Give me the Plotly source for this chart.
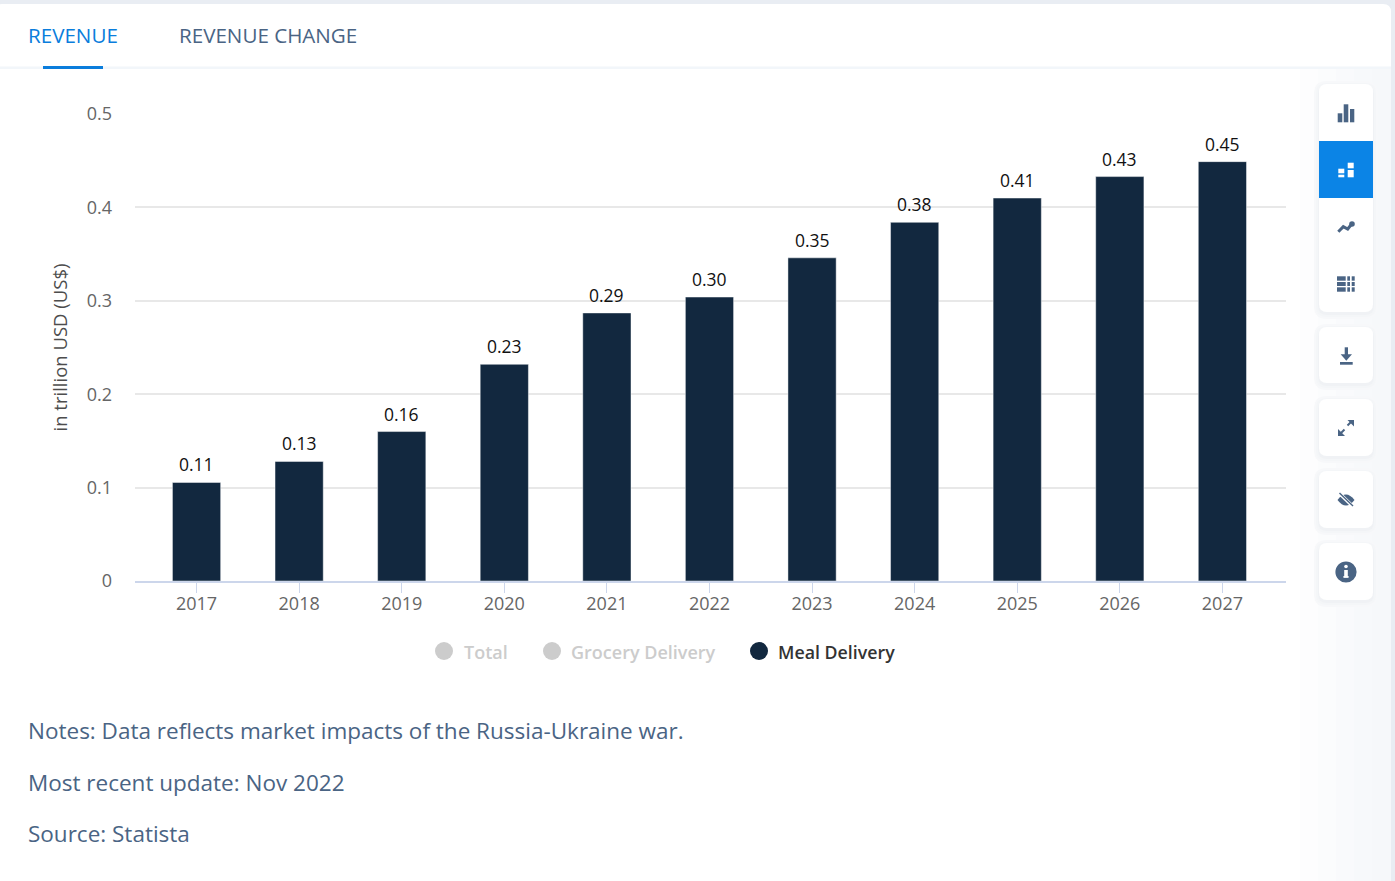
import plotly.graph_objects as go

years = ["2017", "2018", "2019", "2020", "2021", "2022", "2023", "2024", "2025", "2026", "2027"]
meal_delivery = [0.1055, 0.128, 0.16, 0.232, 0.287, 0.304, 0.346, 0.384, 0.41, 0.433, 0.449]
y_ticks = [0, 0.1, 0.2, 0.3, 0.4, 0.5]
y_tick_labels = ["0", "0.1", "0.2", "0.3", "0.4", "0.5"]
legend_names = ["Total", "Grocery Delivery", "Meal Delivery"]
notes = ["Notes: Data reflects market impacts of the Russia-Ukraine war.",
         "Most recent update: Nov 2022",
         "Source: Statista"]
tabs = ["REVENUE", "REVENUE CHANGE"]

FONT = "Open Sans"
NAVY = "#12283f"
SLATE = "#4a6484"
BLUE = "#0b84e6"
L, R, T, B = 135, 1286, 114, 581


def X(p):
    return (p - L) / (R - L)


def Y(p):
    return (B - p) / (B - T)


def P(pts, close=True):
    s = "M" + " L".join(f"{X(a):.5f},{Y(b):.5f}" for a, b in pts)
    return s + (" Z" if close else "")


def rrect(x0, y0, x1, y1, r):
    segs = [
        f"M{X(x0 + r):.5f},{Y(y0):.5f}", f"L{X(x1 - r):.5f},{Y(y0):.5f}",
        f"Q{X(x1):.5f},{Y(y0):.5f} {X(x1):.5f},{Y(y0 + r):.5f}",
        f"L{X(x1):.5f},{Y(y1 - r):.5f}",
        f"Q{X(x1):.5f},{Y(y1):.5f} {X(x1 - r):.5f},{Y(y1):.5f}",
        f"L{X(x0 + r):.5f},{Y(y1):.5f}",
        f"Q{X(x0):.5f},{Y(y1):.5f} {X(x0):.5f},{Y(y1 - r):.5f}",
        f"L{X(x0):.5f},{Y(y0 + r):.5f}",
        f"Q{X(x0):.5f},{Y(y0):.5f} {X(x0 + r):.5f},{Y(y0):.5f} Z",
    ]
    return " ".join(segs)


shapes = []


def path(d, color, layer="below", width=0, line=None):
    shapes.append(dict(type="path", xref="paper", yref="paper", path=d, fillcolor=color, layer=layer,
                       line=dict(width=width, color=line or color)))


def rect(x0, y0, x1, y1, color, layer="below"):
    shapes.append(dict(type="rect", xref="paper", yref="paper", x0=X(x0), x1=X(x1), y0=Y(y0), y1=Y(y1),
                       fillcolor=color, line_width=0, layer=layer))


def circle(cx, cy, r, color, layer="below"):
    shapes.append(dict(type="circle", xref="paper", yref="paper", x0=X(cx - r), x1=X(cx + r),
                       y0=Y(cy + r), y1=Y(cy - r), fillcolor=color, line_width=0, layer=layer))


def stroke(pts, color, width):
    shapes.append(dict(type="path", xref="paper", yref="paper", path=P(pts, close=False), layer="above",
                       line=dict(color=color, width=width)))


# page card
path(rrect(-6, 4, 1391, 900, 8), "#ffffff")
# soft shading of the side rail
for i, c in enumerate(["#fdfdfe", "#fbfcfd", "#f9fafc", "#f7f9fb", "#f6f8fa"]):
    rect(1300 + i * 18, 68, 1391, 881, c)
# header rule + active tab marker
rect(0, 66.5, 1391, 69, "#f2f6fa")
rect(43, 66, 103, 69, "#0a7ddc")


def card(y0, y1):
    for grow, col in [(5, "#f7f8fa"), (3, "#f4f6f8"), (1, "#f0f2f5")]:
        path(rrect(1319 - grow, y0 - grow + 2, 1373 + grow, y1 + grow + 2, 8 + grow), col)
    path(rrect(1319, y0, 1373, y1, 8), "#ffffff")


card(84, 312)
card(327, 383)
card(399, 456)
card(471, 528)
card(543, 600)
rect(1319, 141, 1373, 198, BLUE)

# icon: bars
rect(1337.7, 113.3, 1342.3, 122.3, SLATE, "above")
rect(1343.7, 104.3, 1348.3, 122.3, SLATE, "above")
rect(1350, 109, 1354.3, 122.3, SLATE, "above")
# icon: active stacked
rect(1338.3, 168.7, 1344.3, 173.3, "#ffffff", "above")
rect(1338.3, 174.7, 1344.3, 177.3, "#ffffff", "above")
rect(1347.7, 162.7, 1353.7, 168.3, "#ffffff", "above")
rect(1347.7, 170, 1353.7, 177.3, "#ffffff", "above")
# icon: trend
stroke([(1338.3, 231.7), (1343.3, 226.7), (1347.7, 229), (1351.7, 224)], SLATE, 3)
circle(1352, 224, 2.8, SLATE, "above")
# icon: table
for top, bot in [(276.3, 280.7), (282, 286), (287.3, 291.7)]:
    rect(1337, top, 1345.7, bot, SLATE, "above")
    rect(1347.3, top, 1350, bot, SLATE, "above")
    rect(1351.7, top, 1354.7, bot, SLATE, "above")
# icon: download
rect(1344.7, 347.3, 1348, 355, SLATE, "above")
path(P([(1340.7, 354.3), (1352, 354.3), (1346.3, 360.7)]), SLATE, "above")
rect(1340, 362, 1352.7, 364.7, SLATE, "above")
# icon: expand
stroke([(1340, 434), (1344.5, 429.5)], SLATE, 2)
stroke([(1347.5, 425.5), (1352, 421)], SLATE, 2)
path(P([(1347.5, 420), (1354, 420), (1354, 426.5)]), SLATE, "above")
path(P([(1338, 429), (1338, 436), (1345, 436)]), SLATE, "above")
# icon: hide
path(f"M{X(1337.5):.5f},{Y(500):.5f} Q{X(1346):.5f},{Y(489):.5f} {X(1354.5):.5f},{Y(500):.5f} "
     f"Q{X(1346):.5f},{Y(511):.5f} {X(1337.5):.5f},{Y(500):.5f} Z", SLATE, "above")
stroke([(1339, 493), (1353.5, 507)], "#ffffff", 3.2)
stroke([(1339.5, 493), (1353, 506)], SLATE, 1.4)
# icon: info
circle(1346, 572, 10.6, SLATE, "above")
circle(1346, 566.5, 1.8, "#ffffff", "above")
rect(1344.2, 570, 1347.8, 577.5, "#ffffff", "above")
rect(1343.4, 576, 1348.6, 577.8, "#ffffff", "above")

# legend bullets
circle(444, 651, 9, "#cccccc")
circle(552, 651, 9, "#cccccc")
circle(759, 651, 9, NAVY)


def label(x, y, text, size, color, weight=400):
    return dict(xref="paper", yref="paper", x=X(x), y=Y(y), text=text, showarrow=False, xanchor="left",
                yanchor="middle", font=dict(family=FONT, size=size, color=color, weight=weight))


annotations = [
    label(26, 35, tabs[0], 20.6, "#0a7ddc", 500),
    label(176.5, 35, tabs[1], 20.6, SLATE, 500),
    label(461.5, 652, legend_names[0], 18, "#cccccc", 600),
    label(569, 652, legend_names[1], 18, "#cccccc", 600),
    label(776, 652, legend_names[2], 17.8, "#333333", 600),
    label(26, 730.5, notes[0], 22.5, SLATE),
    label(26, 782, notes[1], 22.5, SLATE),
    label(26, 833, notes[2], 22.5, SLATE),
]
# value labels sit a fixed distance above each bar; a category axis takes the position index here
for i, v in enumerate(meal_delivery):
    annotations.append(dict(xref="x", yref="y", x=i, y=v, text=f"{v:.2f}", showarrow=False, yanchor="middle",
                            yshift=18, font=dict(family=FONT, size=17.5, color="#111111", weight=500)))

fig = go.Figure()
fig.add_trace(go.Bar(
    x=years, y=meal_delivery, name=legend_names[2],
    marker=dict(color=NAVY, line=dict(width=1, color="rgba(255,255,255,0.45)")),
    width=0.47,
))
fig.update_layout(
    width=1395, height=881, autosize=False, showlegend=False, paper_bgcolor="#e9edf3", plot_bgcolor="rgba(0,0,0,0)",
    margin=dict(l=L, r=1395 - R, t=T, b=881 - B, pad=0), shapes=shapes, annotations=annotations,
    xaxis=dict(type="category", range=[-0.6, 10.62], showgrid=False, showline=True, linecolor="#ccd6eb", linewidth=1.5,
               ticks="outside", ticklen=10, tickcolor="#ccd6eb", tickwidth=1, ticklabelstandoff=-4,
               tickfont=dict(family=FONT, size=18, color="#666666")),
    yaxis=dict(range=[0, 0.5], tickvals=y_ticks, ticktext=y_tick_labels, gridcolor="#e8e8e8", gridwidth=1.5,
               zeroline=False, ticks="", ticklabelstandoff=22, tickfont=dict(family=FONT, size=18, color="#666666"),
               title=dict(text="in trillion USD (US$)", standoff=14, font=dict(family=FONT, size=18.5, color="#4d4d4d"))),
    hovermode=False,
)
fig.write_html("out.html", config={"displayModeBar": False},
               post_script="document.body.style.margin='0';document.body.style.overflow='hidden';")
